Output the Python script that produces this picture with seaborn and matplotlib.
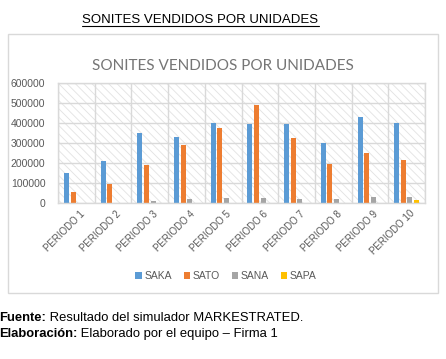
import matplotlib
matplotlib.use("Agg")
import matplotlib.pyplot as plt
import seaborn as sns
import pandas as pd
import numpy as np
from matplotlib.patches import Rectangle
from matplotlib.lines import Line2D

periodos = ["PERIODO 1", "PERIODO 2", "PERIODO 3", "PERIODO 4", "PERIODO 5",
            "PERIODO 6", "PERIODO 7", "PERIODO 8", "PERIODO 9", "PERIODO 10"]
series = ["SAKA", "SATO", "SANA", "SAPA"]
saka = [150000, 210000, 350000, 330000, 400000, 395000, 395000, 300000, 430000, 400000]
sato = [55000, 95000, 190000, 290000, 376000, 490000, 325000, 195000, 250000, 215000]
sana = [0, 0, 10000, 20000, 25000, 25000, 20000, 20000, 30000, 30000]
sapa = [0, 0, 0, 0, 0, 0, 0, 0, 0, 15000]
yticks = [0, 100000, 200000, 300000, 400000, 500000, 600000]
colors = ["#5B9BD5", "#ED7D31", "#A5A5A5", "#FFC000"]

rows = []
for name, vals in zip(series, [saka, sato, sana, sapa]):
    for p, v in zip(periodos, vals):
        rows.append({"Periodo": p, "Serie": name, "Valor": v})
df = pd.DataFrame(rows)

sns.set_theme(style="white")
plt.rcParams["font.family"] = ["Liberation Sans", "DejaVu Sans"]
plt.rcParams["hatch.linewidth"] = 0.6

fig = plt.figure(figsize=(4.46, 3.59), dpi=100)
ax = fig.add_axes([58/446, 156/359, 367/446, 120/359])

# hatched plot-area background
bg = Rectangle((0, 0), 1, 1, transform=ax.transAxes, facecolor="white",
               edgecolor="#e2e2e2", hatch="\\\\\\\\", linewidth=0, zorder=0)
ax.add_patch(bg)

sns.barplot(data=df, x="Periodo", y="Valor", hue="Serie", hue_order=series,
            palette=colors, width=0.72, gap=0.25, ax=ax, saturation=1,
            linewidth=0, zorder=2)

ax.set_xlim(-0.5, 9.5)
ax.set_ylim(0, 600000)
ax.set_yticks(yticks)
ax.set_yticklabels([str(t) for t in yticks])
ax.set_xticks(range(len(periodos)))
ax.set_xticklabels(periodos, rotation=45, ha="right", va="top",
                   rotation_mode="anchor")
ax.set_xticks(np.arange(-0.5, 10, 1), minor=True)
ax.set_xlabel("")
ax.set_ylabel("")
ax.tick_params(axis="both", which="both", length=0, colors="#595959")
ax.tick_params(axis="y", labelsize=7.5, pad=9)
ax.tick_params(axis="x", labelsize=7.0, pad=4)
for lab in ax.get_xticklabels():
    lab.set_transform(lab.get_transform() + matplotlib.transforms.ScaledTranslation(3/100, 0, fig.dpi_scale_trans))
ax.grid(axis="y", which="major", color="#d9d9d9", linewidth=1)
ax.grid(axis="x", which="minor", color="#d9d9d9", linewidth=1)
ax.grid(axis="x", which="major", visible=False)
ax.set_axisbelow(True)
for s in ax.spines.values():
    s.set_color("#d9d9d9")
    s.set_linewidth(1)

# legend
handles, labels = ax.get_legend_handles_labels()
ax.legend(handles, labels, loc="center", bbox_to_anchor=(226/446, 1 - 276/359),
          bbox_transform=fig.transFigure, ncol=4, frameon=False,
          handlelength=0.6, handleheight=0.6, handletextpad=0.3,
          columnspacing=1.1, fontsize=7.5, labelcolor="#595959")

# chart border
fig.patches.append(Rectangle((8/446, 1 - 293/359), 430/446, 259/359,
                             transform=fig.transFigure, facecolor="none",
                             edgecolor="#d9d9d9", linewidth=1, zorder=0))

# chart title
fig.text(223/446, 1 - 70/359, "SONITES VENDIDOS POR UNIDADES", ha="center",
         va="baseline", fontsize=11, color="#757575", family=["Lato", "DejaVu Sans"])

# top document title (underlined)
t = fig.text(200.5/446, 1 - 23/359, "SONITES VENDIDOS POR UNIDADES", ha="center",
             va="baseline", fontsize=9.5, color="black")
fig.canvas.draw()
bb = t.get_window_extent(renderer=fig.canvas.get_renderer())
x0, x1 = bb.x0 / fig.bbox.width, bb.x1 / fig.bbox.width
yl = (359 - 26) / 359
fig.add_artist(Line2D([x0, x1], [yl, yl], transform=fig.transFigure,
                      color="black", linewidth=0.8))

# footer
FS = 9.4
f1 = fig.text(-0.002, 1 - 321/359, "Fuente:", fontsize=FS, fontweight="bold",
              va="baseline", ha="left", color="black")
f2 = fig.text(-0.002, 1 - 337/359, "Elaboración:", fontsize=FS, fontweight="bold",
              va="baseline", ha="left", color="black")
fig.canvas.draw()
r = fig.canvas.get_renderer()
b1 = f1.get_window_extent(renderer=r)
b2 = f2.get_window_extent(renderer=r)
fig.text(b1.x1 / fig.bbox.width, 1 - 321/359, " Resultado del simulador MARKESTRATED.",
         fontsize=FS, va="baseline", ha="left", color="black")
fig.text(b2.x1 / fig.bbox.width, 1 - 337/359, " Elaborado por el equipo – Firma 1",
         fontsize=FS, va="baseline", ha="left", color="black")

fig.savefig("out.png", dpi=100)
